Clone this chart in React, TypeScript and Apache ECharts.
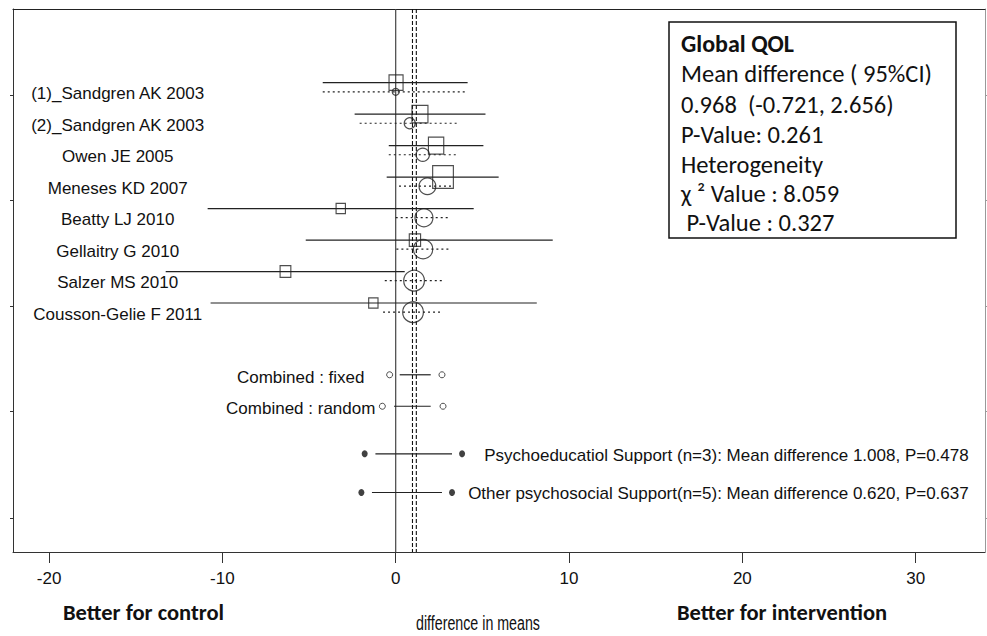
import React, { useEffect, useRef } from "react";
import * as echarts from "echarts";

// ---------- data ----------
const studies = [
  "(1)_Sandgren AK 2003",
  "(2)_Sandgren AK 2003",
  "Owen JE 2005",
  "Meneses KD 2007",
  "Beatty LJ 2010",
  "Gellaitry G 2010",
  "Salzer MS 2010",
  "Cousson-Gelie F 2011",
];
const studyMean = [0.02, 1.4, 2.33, 2.73, -3.17, 1.11, -6.36, -1.29];
const studyLower = [-4.21, -2.37, -0.4, -0.52, -10.85, -5.19, -13.27, -10.68];
const studyUpper = [4.15, 5.18, 5.06, 5.94, 4.5, 9.06, 0.52, 8.14];
const studyWeight = [9.7, 12.6, 11.6, 21.2, 4.3, 6.3, 5.7, 4.3];

const cumMean = [0.0, 0.81, 1.56, 1.83, 1.63, 1.58, 1.06, 1.0];
const cumLower = [-4.21, -2.08, -0.4, 0.19, 0.0, 0.04, -0.63, -0.73];
const cumUpper = [4.08, 3.64, 3.5, 3.31, 3.17, 3.17, 2.83, 2.69];
const cumWeight = [2.4, 6.0, 8.7, 13.8, 16.0, 18.4, 21.2, 21.2];

const combinedLabels = ["Combined : fixed", "Combined : random"];
const combinedLower = [-0.35, -0.77];
const combinedUpper = [2.67, 2.73];
const combinedBarLow = [0.23, -0.1];
const combinedBarHigh = [2.02, 2.02];

const subgroupLabels = [
  "Psychoeducatiol Support (n=3): Mean difference 1.008, P=0.478",
  "Other psychosocial Support(n=5): Mean difference 0.620, P=0.637",
];
const subgroupLower = [-1.79, -1.98];
const subgroupUpper = [3.83, 3.25];
const subgroupBarLow = [-1.17, -1.37];
const subgroupBarHigh = [3.25, 2.67];

const fixedEffect = 0.968;
const randomEffect = 1.19;

const xTicks = [-20, -10, 0, 10, 20, 30];

const legendLines = [
  "Global QOL",
  "Mean difference ( 95%CI)",
  "0.968  (-0.721, 2.656)",
  "P-Value: 0.261",
  "Heterogeneity",
  "χ ² Value : 8.059",
  " P-Value : 0.327",
];

// ---------- layout ----------
const X_MIN = -22.08;
const X_MAX = 34;
const Y_MIN = -1.34;
const Y_MAX = 15.91;
const Y_TICKS = [1.39, 4.75, 8.09, 11.43, 14.83];
const CUM_OFFSET = 0.29;
const COMBINED_Y0 = 10.28;
const SUBGROUP_Y = [12.79, 14.02];

const ARIAL = "'Liberation Sans', Arial, sans-serif";
const CALIBRI = "Carlito, Lato, 'Open Sans', sans-serif";

const sizeOf = (w: number) => 4.5 * Math.sqrt(w);

function hLine(lineDash: number[] | null, width = 1.1) {
  return (params: any, api: any) => {
    const y = api.value(2);
    const p1 = api.coord([api.value(0), y]);
    const p2 = api.coord([api.value(1), y]);
    return {
      type: "line",
      shape: { x1: p1[0], y1: p1[1], x2: p2[0], y2: p2[1] },
      style: { stroke: "#222", lineWidth: width, lineDash: lineDash || undefined },
      silent: true,
    };
  };
}

export default function App() {
  const ref = useRef<HTMLDivElement>(null);
  useEffect(() => {
    if (!ref.current) return;
    const chart = echarts.init(ref.current, null, { renderer: "svg" });

    const studyRows = studies.map((_, i) => i + 1);

    const textSeries = (data: any[], xVal: number, align: string) => ({
      type: "custom",
      xAxisIndex: 0,
      yAxisIndex: 0,
      silent: true,
      clip: false,
      data,
      encode: { x: 0, y: 1 },
      renderItem: (params: any, api: any) => {
        const p = api.coord([xVal, api.value(1)]);
        return {
          type: "text",
          x: p[0],
          y: p[1],
          style: {
            text: data[params.dataIndex][2],
            fontSize: 17,
            fontFamily: ARIAL,
            fill: "#111",
            align,
            verticalAlign: "middle",
          },
        };
      },
    });

    const option: any = {
      animation: false,
      grid: { left: 13, right: 2, top: 9, bottom: 84, show: false },
      xAxis: [
        {
          type: "value",
          min: X_MIN,
          max: X_MAX,
          position: "bottom",
          axisLine: { show: true, onZero: false, lineStyle: { color: "#333", width: 1 } },
          axisTick: { show: true, length: 11, customValues: xTicks, lineStyle: { color: "#333" } },
          axisLabel: {
            show: true,
            customValues: xTicks,
            margin: 18,
            fontSize: 17,
            fontFamily: ARIAL,
            color: "#111",
          },
          splitLine: { show: false },
        },
        {
          type: "value",
          min: X_MIN,
          max: X_MAX,
          position: "top",
          axisLine: { show: true, onZero: false, lineStyle: { color: "#222", width: 1.2 } },
          axisTick: { show: false },
          axisLabel: { show: false },
          splitLine: { show: false },
        },
      ],
      yAxis: [
        {
          type: "value",
          inverse: true,
          min: Y_MIN,
          max: Y_MAX,
          position: "left",
          axisLine: { show: true, onZero: false, lineStyle: { color: "#333", width: 1 } },
          axisTick: { show: true, length: 3, customValues: Y_TICKS, lineStyle: { color: "#333" } },
          axisLabel: { show: false },
          splitLine: { show: false },
        },
        {
          type: "value",
          inverse: true,
          min: Y_MIN,
          max: Y_MAX,
          position: "right",
          axisLine: { show: true, onZero: false, lineStyle: { color: "#999", width: 1 } },
          axisTick: { show: true, length: 3, customValues: Y_TICKS, lineStyle: { color: "#999" } },
          axisLabel: { show: false },
          splitLine: { show: false },
        },
      ],
      series: [
        // reference lines
        {
          type: "custom",
          silent: true,
          clip: false,
          data: [
            [0, 0],
            [fixedEffect, 1],
            [randomEffect, 1],
          ],
          encode: { x: 0 },
          renderItem: (params: any, api: any) => {
            const x = api.value(0);
            const p1 = api.coord([x, Y_MIN]);
            const p2 = api.coord([x, Y_MAX]);
            const dashed = api.value(1) === 1;
            return {
              type: "line",
              shape: { x1: p1[0], y1: p1[1], x2: p2[0], y2: p2[1] },
              style: {
                stroke: dashed ? "#111" : "#444",
                lineWidth: dashed ? 1.1 : 1.2,
                lineDash: dashed ? [4, 2] : undefined,
              },
            };
          },
        },
        // study CIs (solid)
        {
          type: "custom",
          silent: true,
          data: studies.map((_, i) => [studyLower[i], studyUpper[i], studyRows[i]]),
          encode: { x: [0, 1], y: 2 },
          renderItem: hLine(null, 1.2),
        },
        // cumulative CIs (dotted)
        {
          type: "custom",
          silent: true,
          data: studies.map((_, i) => [cumLower[i], cumUpper[i], studyRows[i] + CUM_OFFSET]),
          encode: { x: [0, 1], y: 2 },
          renderItem: hLine([2, 3], 1.2),
        },
        // study squares
        {
          type: "scatter",
          silent: true,
          symbol: "rect",
          data: studies.map((_, i) => [studyMean[i], studyRows[i], studyWeight[i]]),
          symbolSize: (v: number[]) => {
            const s = sizeOf(v[2]);
            return [s, s * 1.1];
          },
          itemStyle: { color: "rgba(0,0,0,0)", borderColor: "#222", borderWidth: 1.2 },
        },
        // cumulative circles
        {
          type: "scatter",
          silent: true,
          symbol: "circle",
          data: studies.map((_, i) => [cumMean[i], studyRows[i] + CUM_OFFSET, cumWeight[i]]),
          symbolSize: (v: number[]) => sizeOf(v[2]),
          itemStyle: { color: "rgba(0,0,0,0)", borderColor: "#222", borderWidth: 1.2 },
        },
        // combined bars
        {
          type: "custom",
          silent: true,
          data: combinedLabels.map((_, i) => [combinedBarLow[i], combinedBarHigh[i], COMBINED_Y0 + i]),
          encode: { x: [0, 1], y: 2 },
          renderItem: hLine(null, 1.2),
        },
        // combined open circles
        {
          type: "scatter",
          silent: true,
          symbol: "circle",
          symbolSize: 6,
          data: combinedLabels.flatMap((_, i) => [
            [combinedLower[i], COMBINED_Y0 + i],
            [combinedUpper[i], COMBINED_Y0 + i],
          ]),
          itemStyle: { color: "rgba(0,0,0,0)", borderColor: "#222", borderWidth: 1 },
        },
        // subgroup bars
        {
          type: "custom",
          silent: true,
          data: subgroupLabels.map((_, i) => [subgroupBarLow[i], subgroupBarHigh[i], SUBGROUP_Y[i]]),
          encode: { x: [0, 1], y: 2 },
          renderItem: hLine(null, 1.2),
        },
        // subgroup filled dots
        {
          type: "scatter",
          silent: true,
          symbol: "circle",
          symbolSize: [6, 7],
          data: subgroupLabels.flatMap((_, i) => [
            [subgroupLower[i], SUBGROUP_Y[i]],
            [subgroupUpper[i], SUBGROUP_Y[i]],
          ]),
          itemStyle: { color: "#111" },
        },
        // labels
        textSeries(
          studies.map((s, i) => [0, studyRows[i] + 0.36, s]),
          -16.04,
          "center"
        ),
        textSeries(
          combinedLabels.map((s, i) => [0, COMBINED_Y0 + i + 0.08, s]),
          -5.48,
          "center"
        ),
        textSeries(
          subgroupLabels.map((s, i) => [0, SUBGROUP_Y[i] + 0.04, s]),
          33.06,
          "right"
        ),
      ],
      graphic: [
        {
          type: "rect",
          shape: { x: 669, y: 22, width: 287, height: 216 },
          style: { fill: "#fff", stroke: "#111", lineWidth: 1.5 },
          z: 10,
        },
        ...legendLines.map((t, i) => ({
          type: "text",
          x: 681,
          y: [43, 74, 105, 135, 165, 194, 223][i],
          z: 11,
          style: {
            text: t,
            fontSize: i === 0 ? 24 : 24.5,
            fontWeight: i === 0 ? "bold" : "normal",
            fontFamily: CALIBRI,
            fill: "#111",
            align: "left",
            verticalAlign: "middle",
          },
        })),
        {
          type: "text",
          x: 63,
          y: 612,
          style: {
            text: "Better for control",
            fontSize: 22.5,
            fontWeight: "bold",
            fontFamily: CALIBRI,
            fill: "#111",
            align: "left",
            verticalAlign: "middle",
          },
        },
        {
          type: "text",
          x: 677,
          y: 612,
          style: {
            text: "Better for intervention",
            fontSize: 22.5,
            fontWeight: "bold",
            fontFamily: CALIBRI,
            fill: "#111",
            align: "left",
            verticalAlign: "middle",
          },
        },
        {
          type: "text",
          x: 478,
          y: 624,
          scaleX: 0.73,
          style: {
            text: "difference in means",
            fontSize: 19.5,
            fontFamily: ARIAL,
            fill: "#111",
            align: "center",
            verticalAlign: "middle",
          },
        },
      ],
    };
    chart.setOption(option);
    return () => chart.dispose();
  }, []);

  return (
    <div
      ref={ref}
      style={{ position: "absolute", left: 0, top: 0, width: 987, height: 636, background: "#fff" }}
    />
  );
}
